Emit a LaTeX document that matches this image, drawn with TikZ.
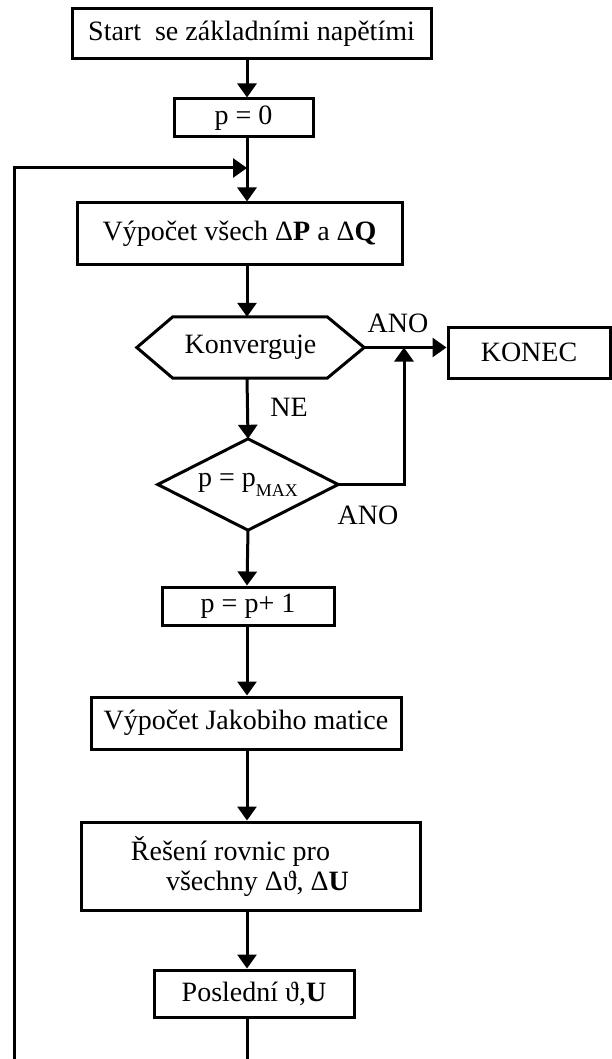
\documentclass[tikz,border=0pt]{standalone}
\usepackage{fontspec}
\setmainfont{Liberation Serif}
\usetikzlibrary{arrows.meta,calc}
\tikzset{
  txt/.style={font=\fontsize{28}{30}\selectfont},
  box/.style={draw, line width=3pt, inner sep=0pt, txt},
  lbl/.style={inner sep=0pt, txt},
  conn/.style={line width=3pt, -{Triangle[length=14pt,width=19pt]}},
  plain/.style={line width=3pt},
}
\begin{document}
\begin{tikzpicture}[x=1pt,y=-1pt]
\fill[white] (0,0) rectangle (611,1059);
\useasboundingbox (0,0) rectangle (611,1059);
% nodes
\node[box, minimum width=359, minimum height=50] (start) at (251.5,34) {Start\ \ se základními napětími};
\node[box, minimum width=139, minimum height=38] (p0) at (243.5,118) {p = 0};
\node[box, minimum width=325, minimum height=61] (vyp) at (239.5,233.5) {Výpočet všech Δ\textbf{P} a Δ\textbf{Q}};
\node[lbl, minimum width=227, minimum height=61] (konv) at (250.5,347.5) {Konverguje};
\draw[plain, line join=miter] (konv.west) -- ($(konv.north west)+(36,0)$) -- ($(konv.north east)+(-37,0)$) -- (konv.east) -- ($(konv.south east)+(-37,0)$) -- ($(konv.south west)+(36,0)$) -- cycle;
\node[box, minimum width=162, minimum height=51] (konec) at (529,352.5) {KONEC};
\node[lbl, minimum width=180, minimum height=91] (pmax) at (248,484.5) {p = p\raisebox{-10pt}{\fontsize{18}{18}\selectfont MAX}};
\draw[plain, line join=miter] (pmax.north) -- (pmax.east) -- (pmax.south) -- (pmax.west) -- cycle;
\node[box, minimum width=172, minimum height=38] (pp1) at (248,606) {p = p+ 1};
\node[box, minimum width=310, minimum height=52] (jak) at (246,723) {Výpočet Jakobiho matice};
\node[box, minimum width=339, minimum height=88, align=center] (res) at (250.5,866) {Řešení rovnic pro\hspace*{40pt}\\\hspace*{14pt}všechny Δϑ, Δ\textbf{U}};
\node[box, minimum width=200, minimum height=47] (posl) at (254,993.5) {Poslední ϑ,\textbf{U}};
% labels
\node[lbl] (ano1) at (398,323) {ANO};
\node[lbl] (ne) at (289,407) {NE};
\node[lbl] (ano2) at (368,515) {ANO};
% helper coordinates
\coordinate (m) at (247,0);
\coordinate (j) at (247,168);
\coordinate (loopbot) at (14,1059);
\coordinate (merge) at (404,347.5);
\coordinate (bot) at (247,1059);
% connectors
\draw[conn] (start.south -| m) -- (p0.north -| m);
\draw[conn] (p0.south -| m) -- (vyp.north -| m);
\draw[conn] (loopbot) -- (loopbot |- j) -- (j);
\draw[conn] (vyp.south -| m) -- (konv.north -| m);
\draw[conn] (konv.east) -- (konv.east -| konec.west);
\draw[conn] (konv.south -| m) -- (pmax.north);
\draw[conn] (pmax.east) -| (merge);
\draw[conn] (pmax.south) -- (pp1.north -| m);
\draw[conn] (pp1.south -| m) -- (jak.north -| m);
\draw[conn] (jak.south -| m) -- (res.north -| m);
\draw[conn] (res.south -| m) -- (posl.north -| m);
\draw[plain] (posl.south -| m) -- (bot);
\end{tikzpicture}
\end{document}
